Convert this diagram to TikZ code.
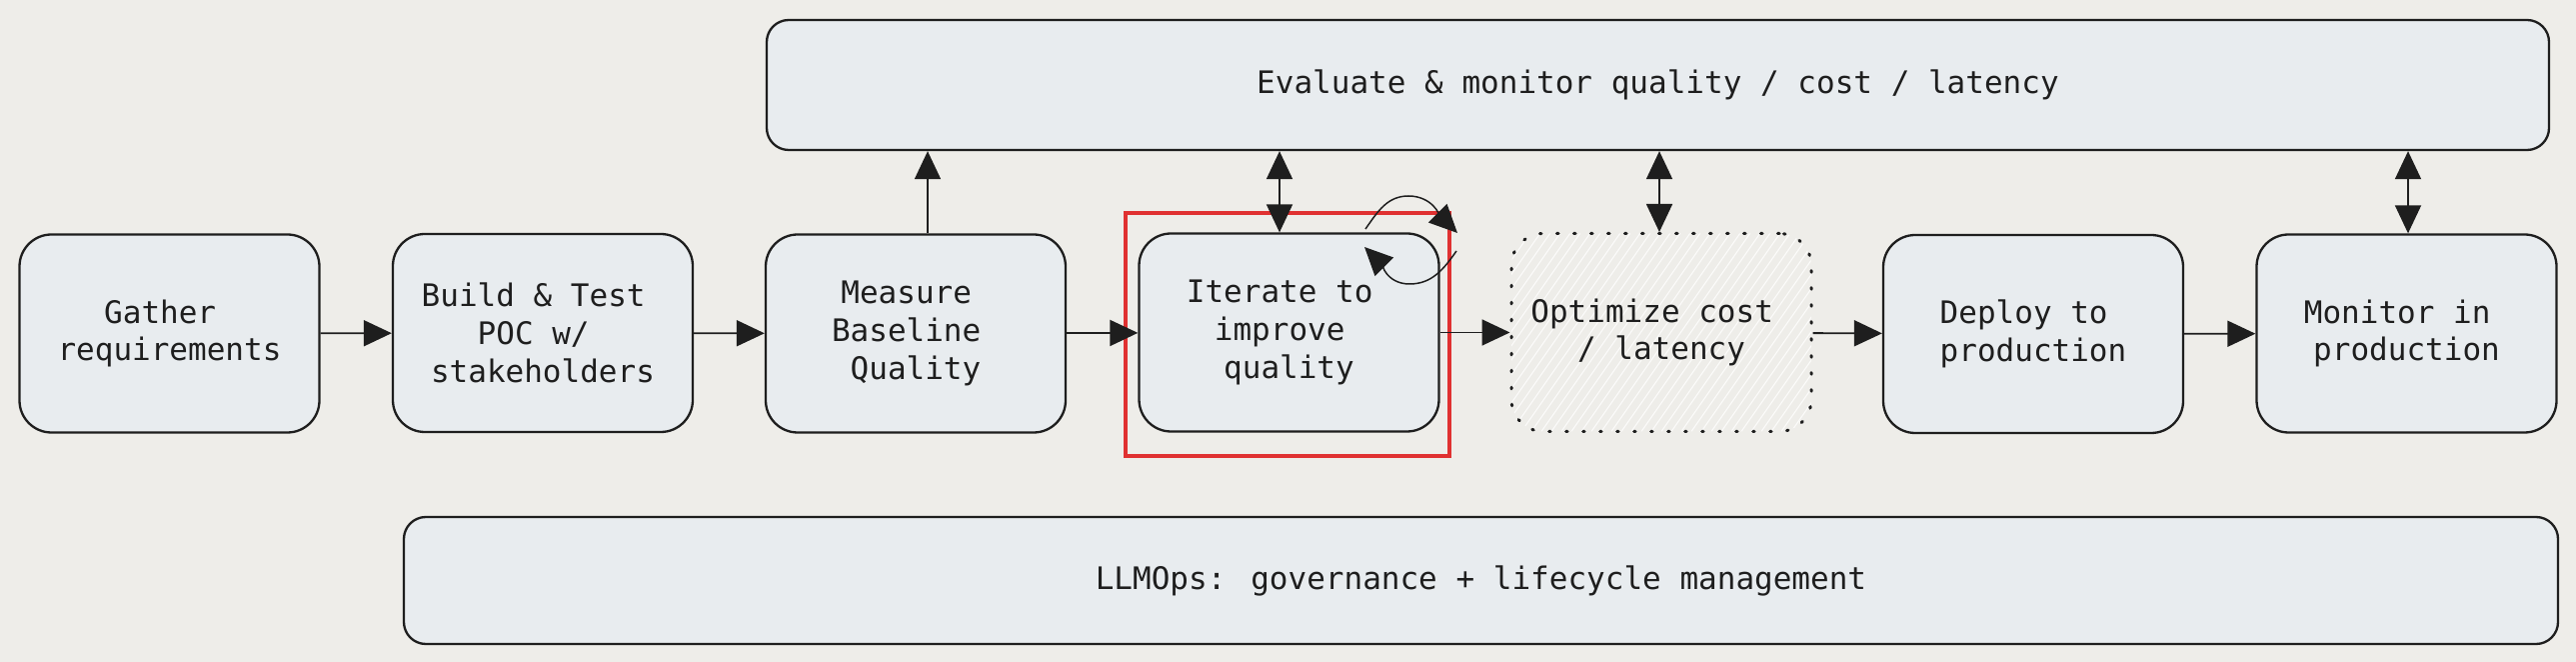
\documentclass[tikz,border=0pt]{standalone}
\usepackage{fontspec}
\newfontfamily\boxfont{DejaVu Sans Mono}
\usetikzlibrary{arrows.meta}
\definecolor{bg}{RGB}{238,237,233}
\definecolor{boxfill}{RGB}{232,236,239}
\definecolor{ink}{RGB}{30,30,30}
\definecolor{focusred}{RGB}{224,49,49}
\tikzset{
  stage/.style={draw=ink, fill=boxfill, line width=1.15pt, rounded corners=16pt,
    minimum width=150pt, minimum height=99pt, inner sep=0pt, align=center,
    text=ink, font=\boxfont\fontsize{15.5pt}{18.85pt}\selectfont},
  bar/.style={stage, rounded corners=11pt},
  hatched/.style={stage, fill=bg, line width=1.5pt, line cap=round,
    dash pattern=on 0.8pt off 7.7pt,
    path picture={
      \foreach \i in {-75,-70,...,160}
        \draw[white, line width=0.5pt, opacity=0.85, solid]
          ([xshift=\i pt]path picture bounding box.south west) -- ++(70pt,100pt);
    }},
  focusbox/.style={draw=focusred, line width=1.75pt, inner sep=0pt},
  arr/.style={draw=ink, line width=0.9pt, -{Triangle[length=14pt,width=13pt]}},
  darr/.style={draw=ink, line width=0.9pt,
    {Triangle[length=14pt,width=13pt]}-{Triangle[length=14pt,width=13pt]}},
  loopline/.style={draw=ink, line width=0.75pt, -{Triangle[length=14pt,width=13pt]}}
}
\begin{document}
\begin{tikzpicture}[x=0.5pt,y=-0.5pt]
  \fill[bg] (0,0) rectangle (2577,662);
  \useasboundingbox (0,0) rectangle (2577,662);

  \node[bar, minimum width=891.5pt, minimum height=65pt] (evaluate) at (1658.5,85)
    {Evaluate \& monitor quality / cost / latency};
  \node[bar, minimum width=1077.5pt, minimum height=63.5pt] (llmops) at (1481.5,580.5)
    {LLMOps: governance + lifecycle management};

  \node[stage] (gather) at (169.5,333.5) {Gather\phantom{x}\\requirements};
  \node[stage] (build) at (543,333) {Build \& Test\phantom{x}\\POC w/\phantom{x}\\stakeholders};
  \node[stage] (measure) at (916,333.5) {Measure\phantom{x}\\Baseline\phantom{x}\\Quality};
  \node[focusbox, minimum width=162pt, minimum height=121.5pt] (focus) at (1288,334.5) {};
  \node[stage] (iterate) at (1289.5,332.5) {Iterate to\phantom{x}\\improve\phantom{x}\\quality};
  \node[hatched] (optimize) at (1662,332.5) {Optimize cost\phantom{x}\\/ latency};
  \node[stage] (deploy) at (2034,334) {Deploy to\phantom{x}\\production};
  \node[stage] (monitor) at (2407.5,333.5) {Monitor in\phantom{x}\\production};

  \draw[arr] (gather) -- (build);
  \draw[arr] (build) -- (measure);
  \draw[arr] (measure) -- (iterate);
  \draw[arr] (iterate) -- (optimize);
  \draw[arr] (optimize) -- (deploy);
  \draw[arr] (deploy) -- (monitor);

  \coordinate (mtop) at ([xshift=6pt]measure.north);
  \coordinate (itop) at ([xshift=-4.75pt]iterate.north);
  \coordinate (otop) at ([xshift=-1pt]optimize.north);
  \coordinate (ntop) at ([xshift=0.75pt]monitor.north);
  \draw[arr] (mtop) -- (mtop |- evaluate.south);
  \draw[darr] (itop |- evaluate.south) -- (itop);
  \draw[darr] (otop |- evaluate.south) -- (otop);
  \draw[darr] (ntop |- evaluate.south) -- (ntop);

  \coordinate (loopAs) at (1366,229);
  \coordinate (loopAp) at (1409,196);
  \coordinate (loopAe) at (1458,233);
  \coordinate (loopBs) at (1457,251);
  \coordinate (loopBp) at (1410,284);
  \coordinate (loopBe) at (1365,247);
  \draw[loopline] (loopAs) to[out=55,in=180] (loopAp) to[out=0,in=135] (loopAe);
  \draw[loopline] (loopBs) to[out=235,in=0] (loopBp) to[out=180,in=-45] (loopBe);
\end{tikzpicture}
\end{document}
